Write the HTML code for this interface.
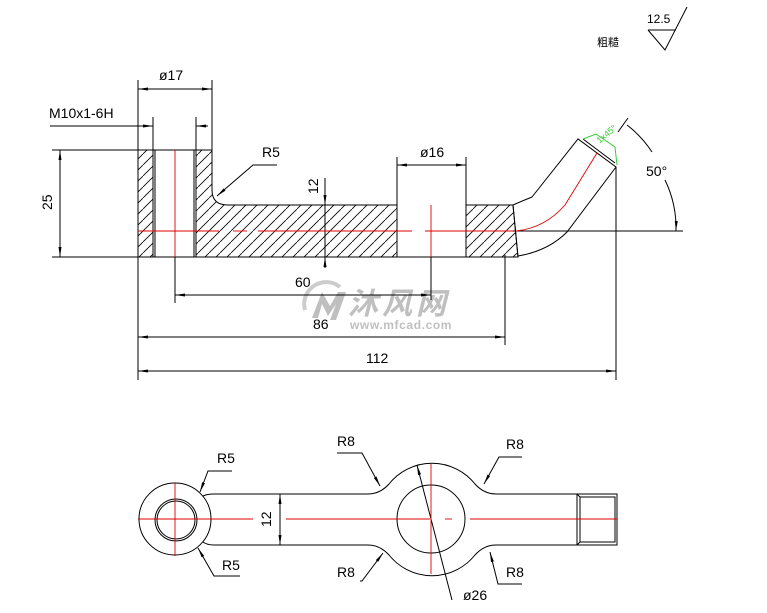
<!DOCTYPE html>
<html><head><meta charset="utf-8"><style>
html,body{margin:0;padding:0;background:#fff;}
svg{display:block;}
text{font-family:"Liberation Sans","Noto Sans CJK SC",sans-serif;font-size:14px;fill:#000;}
</style></head><body>
<svg width="767" height="613" viewBox="0 0 767 613" xmlns="http://www.w3.org/2000/svg">
<defs>
<pattern id="h" patternUnits="userSpaceOnUse" width="11" height="11">
<path d="M-1,12 L12,-1" stroke="#000" stroke-width="0.8"/>
</pattern>
<marker id="a" viewBox="0 0 10 4" refX="10" refY="2" markerWidth="10" markerHeight="4" orient="auto-start-reverse" markerUnits="userSpaceOnUse"><path d="M0,0.5 L10,2 L0,3.5z" fill="#000"/></marker>
</defs>
<g opacity="0.75">
<path d="M312,318 L322,292 L330,306 L338,292 L346,292 L336,320 L330,320 L336,304 L328,316 L322,304 L318,318 Z" fill="#aaa"/>
<path d="M305,310 A22,22 0 0 1 340,287" fill="none" stroke="#bbb" stroke-width="4"/>
<text x="348" y="314" style="font-size:30px;font-weight:bold;font-style:italic;fill:#aaa;letter-spacing:4px">沐风网</text>
<text x="350" y="329" style="font-size:12px;font-weight:bold;fill:#aaa;letter-spacing:0.6px">www.mfcad.com</text>
</g>
<g fill="none" stroke="#000" stroke-width="1">
<path d="M138,150 H153 V257 H138 Z" fill="url(#h)"/>
<path d="M196,150 H212 V190 Q212,205 228,205 H397 V257 H196 Z" fill="url(#h)"/>
<path d="M466,205 H513 L518,257 H466 Z" fill="url(#h)"/>
<line x1="52" y1="150" x2="212" y2="150"/>
<line x1="52" y1="257" x2="518" y2="257"/>
<line x1="138" y1="80" x2="138" y2="380"/>
<line x1="212" y1="80" x2="212" y2="190"/>
<line x1="153" y1="117" x2="153" y2="257"/><line x1="155" y1="150" x2="155" y2="257"/>
<line x1="196" y1="117" x2="196" y2="257"/><line x1="194" y1="150" x2="194" y2="257"/>
<line x1="397" y1="157" x2="397" y2="257"/>
<line x1="466" y1="157" x2="466" y2="257"/>
<path d="M513,205 Q522,201 532,197 L578,139 L616,167 L567,232 Q548,251 518,256"/>
<line x1="583" y1="139" x2="615" y2="163"/>
<line x1="513" y1="205" x2="518" y2="257"/>
<line x1="616" y1="167" x2="616" y2="380"/>
<line x1="500" y1="231" x2="683" y2="231"/>
<line x1="618" y1="132" x2="628" y2="118"/>
<line x1="138" y1="89" x2="212" y2="89" marker-start="url(#a)" marker-end="url(#a)"/>
<line x1="50" y1="126" x2="153" y2="126" marker-end="url(#a)"/>
<line x1="196" y1="126" x2="208" y2="126" marker-start="url(#a)"/>
<line x1="60" y1="150" x2="60" y2="257" marker-start="url(#a)" marker-end="url(#a)"/>
<line x1="325" y1="178" x2="325" y2="205" marker-end="url(#a)"/>
<line x1="325" y1="257" x2="325" y2="268" marker-start="url(#a)"/>
<line x1="325" y1="205" x2="325" y2="257"/>
<line x1="175" y1="257" x2="175" y2="303"/>
<line x1="431" y1="257" x2="431" y2="300"/>
<line x1="175" y1="295" x2="431" y2="295" marker-start="url(#a)" marker-end="url(#a)"/>
<line x1="505" y1="255" x2="505" y2="345"/>
<line x1="138" y1="337" x2="505" y2="337" marker-start="url(#a)" marker-end="url(#a)"/>
<line x1="138" y1="371" x2="616" y2="371" marker-start="url(#a)" marker-end="url(#a)"/>
<line x1="397" y1="165" x2="466" y2="165" marker-start="url(#a)" marker-end="url(#a)"/>
<path d="M277,165 H253 L217,196" marker-end="url(#a)"/>
<path d="M627,125 A110,110 0 0 1 652,152"/>
<path d="M665,180 A110,110 0 0 1 676,231" marker-end="url(#a)"/>
<circle cx="175" cy="519" r="36"/>
<circle cx="176" cy="520" r="21"/>
<circle cx="176" cy="520" r="19"/>
<path d="M203,496 Q207,494 214,494 H368 Q380,494 389,484 A55,55 0 0 1 475,484 Q484,494 496,494 H577"/>
<path d="M203,542 Q207,545 214,545 H368 Q380,545 389,555 A55,55 0 0 0 475,555 Q484,545 496,545 H577"/>
<circle cx="431" cy="519" r="34"/>
<rect x="577" y="494" width="40" height="51"/>
<rect x="580" y="497" width="35" height="45"/>
<line x1="577" y1="494" x2="580" y2="497"/><line x1="577" y1="545" x2="580" y2="542"/>
<line x1="280" y1="494" x2="280" y2="545" marker-start="url(#a)" marker-end="url(#a)"/>
<line x1="452" y1="600" x2="417" y2="465" marker-end="url(#a)"/>
<path d="M232,471 H208 L200,492" marker-end="url(#a)"/>
<path d="M240,576 H214 L198,548" marker-end="url(#a)"/>
<path d="M337,453 H362 L380,486" marker-end="url(#a)"/>
<path d="M522,457 H499 L484,484" marker-end="url(#a)"/>
<path d="M360,581 H362 L383,553" marker-end="url(#a)"/>
<path d="M522,584 H498 L490,552" marker-end="url(#a)"/>
<path d="M648,30 L676,30 M648,30 L665,50 L687,7"/>
</g>
<g stroke="#d00" stroke-width="0.9" fill="none">
<line x1="175" y1="150" x2="175" y2="257"/>
<line x1="138" y1="231" x2="219" y2="231"/>
<line x1="233" y1="231" x2="247" y2="231"/>
<line x1="258" y1="231" x2="412" y2="231"/>
<line x1="425" y1="231" x2="513" y2="231"/>
<line x1="431" y1="205" x2="431" y2="257"/>
<path d="M516,231 Q545,228 565,205 L597,153"/>
<line x1="138" y1="519" x2="253" y2="519"/>
<line x1="286" y1="519" x2="430" y2="519"/>
<line x1="445" y1="519" x2="452" y2="519"/>
<line x1="470" y1="519" x2="617" y2="519"/>
<line x1="175" y1="483" x2="175" y2="556"/>
<line x1="431" y1="464" x2="431" y2="574"/>
</g>
<g stroke="#3c3" stroke-width="1" fill="none">
<path d="M583,139 L596,134 L615,147 L617,165"/>
</g>
<text x="596" y="140" style="font-size:9px;fill:#3c3" transform="rotate(-40 603 137)">1x45°</text>
<text x="159" y="80">ø17</text>
<text x="49" y="118">M10x1-6H</text>
<text x="262" y="157">R5</text>
<text x="420" y="157">ø16</text>
<text x="646" y="176">50°</text>
<text transform="translate(52,210) rotate(-90)">25</text>
<text transform="translate(318,194) rotate(-90)">12</text>
<text x="295" y="287">60</text>
<text x="313" y="329">86</text>
<text x="366" y="363">112</text>
<text x="647" y="23" style="font-size:12px">12.5</text>
<text x="597" y="46" style="font-size:11px">粗糙</text>
<text x="217" y="463">R5</text>
<text x="222" y="570">R5</text>
<text x="337" y="446">R8</text>
<text x="506" y="449">R8</text>
<text x="337" y="577">R8</text>
<text x="506" y="577">R8</text>
<text x="463" y="600">ø26</text>
<text transform="translate(271,527) rotate(-90)">12</text>
</svg>
</body></html>
